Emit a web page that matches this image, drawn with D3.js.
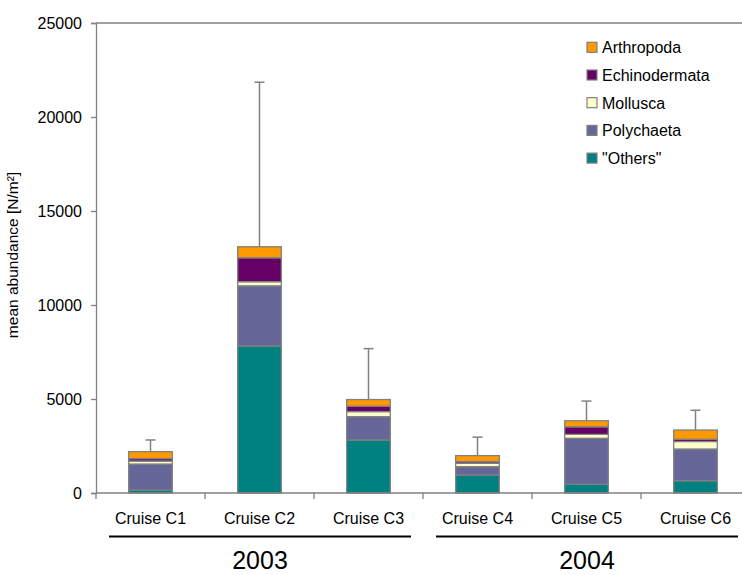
<!DOCTYPE html>
<html><head><meta charset="utf-8">
<script src="https://cdn.jsdelivr.net/npm/d3@7"></script>
<style>
body{margin:0;background:#fff;}
text{font-family:"Liberation Sans",Arial,sans-serif;}
</style></head>
<body><svg id="c" width="742" height="575"></svg>
<script>
const cruises = ["Cruise C1","Cruise C2","Cruise C3","Cruise C4","Cruise C5","Cruise C6"];
const others        = [160, 7820, 2820, 960,  460,  650];
const polychaeta    = [1380,3200, 1240, 440,  2450, 1690];
const mollusca      = [160, 220,  270,  180,  210,  400];
const echinodermata = [130, 1270, 290,  90,   400,  120];
const arthropoda    = [370, 590,  350,  320,  320,  490];
const errorTop      = [2820,21850,7680, 2970, 4890, 4400];
const yTicks = [0,5000,10000,15000,20000,25000];
const years = [{label:"2003", from:"Cruise C1", to:"Cruise C3"},{label:"2004", from:"Cruise C4", to:"Cruise C6"}];
const keys = ["Others","Polychaeta","Mollusca","Echinodermata","Arthropoda"];
const legendLabels = ["Arthropoda","Echinodermata","Mollusca","Polychaeta","\"Others\""];
const legendKeys = ["Arthropoda","Echinodermata","Mollusca","Polychaeta","Others"];
const colors = {Arthropoda:"#FF9900",Echinodermata:"#660066",Mollusca:"#FFFFCC",Polychaeta:"#666699",Others:"#008080"};

const rows = cruises.map((c,i)=>({cruise:c,Others:others[i],Polychaeta:polychaeta[i],Mollusca:mollusca[i],Echinodermata:echinodermata[i],Arthropoda:arthropoda[i],err:errorTop[i]}));

const svg = d3.select("#c");
const L=96, R=750, T=23, B=493;
const x = d3.scaleBand().domain(cruises).range([L,R]).paddingInner(0.6).paddingOuter(0.3);
const y = d3.scaleLinear().domain([0,25000]).range([B,T]);
const gray="#808080";

// plot border top
svg.append("line").attr("x1",L).attr("x2",R).attr("y1",T).attr("y2",T).attr("stroke",gray).attr("stroke-width",1.3);

// y axis
const ya = svg.append("g").attr("transform",`translate(${L},0)`).call(d3.axisLeft(y).tickValues(yTicks).tickSize(5).tickPadding(9).tickFormat(d3.format("d")));
ya.select(".domain").attr("stroke",gray).attr("stroke-width",1.3);
ya.selectAll(".tick line").attr("stroke",gray).attr("stroke-width",1.3);
ya.selectAll("text").attr("font-size","16px").attr("fill","#000").attr("font-family","Liberation Sans, Arial, sans-serif");

// stacked bars
const stack = d3.stack().keys(keys)(rows);
svg.append("g").selectAll("g").data(stack).join("g").attr("fill",d=>colors[d.key])
  .selectAll("rect").data(d=>d).join("rect")
  .attr("x",d=>x(d.data.cruise)).attr("width",x.bandwidth())
  .attr("y",d=>y(d[1])).attr("height",d=>y(d[0])-y(d[1]))
  .attr("stroke",gray).attr("stroke-width",1.3);

// error bars
const eb = svg.append("g").attr("stroke",gray).attr("stroke-width",1.5);
rows.forEach((r,i)=>{
  const tot = keys.reduce((s,k)=>s+r[k],0);
  const cx = x(r.cruise)+x.bandwidth()/2;
  eb.append("line").attr("x1",cx).attr("x2",cx).attr("y1",y(tot)).attr("y2",y(r.err));
  eb.append("line").attr("x1",cx-5).attr("x2",cx+5).attr("y1",y(r.err)).attr("y2",y(r.err));
});

// x axis
const xa = svg.append("g").attr("transform",`translate(0,${B})`);
xa.append("line").attr("x1",L).attr("x2",R).attr("stroke",gray).attr("stroke-width",1.3);
const step = x.step();
d3.range(cruises.length+1).forEach(k=>{
  const xx = x(cruises[0]) - x.paddingOuter()*step + k*step;
  xa.append("line").attr("x1",xx).attr("x2",xx).attr("y1",0).attr("y2",6).attr("stroke",gray).attr("stroke-width",1.3);
});
svg.append("g").selectAll("text").data(cruises).join("text")
  .attr("x",d=>x(d)+x.bandwidth()/2).attr("y",524).attr("text-anchor","middle")
  .attr("font-size","16px").attr("fill","#000").text(d=>d);

// year groups
years.forEach(g=>{
  const x0 = x(g.from) - x.paddingInner()*step/2 + 13;
  const x1 = x(g.to) + x.bandwidth() + x.paddingInner()*step/2 - 12;
  svg.append("line").attr("x1",x0).attr("x2",x1).attr("y1",536.5).attr("y2",536.5).attr("stroke","#000").attr("stroke-width",2);
  svg.append("text").attr("x",(x0+x1)/2).attr("y",569).attr("text-anchor","middle").attr("font-size","25px").attr("fill","#000").text(g.label);
});

// y title
svg.append("text").attr("transform","translate(18,255) rotate(-90)").attr("text-anchor","middle")
  .attr("font-size","15.5px").attr("fill","#000").text("mean abundance [N/m²]");

// legend
const lg = svg.append("g");
legendKeys.forEach((k,i)=>{
  const cy = 47.3 + i*27.7;
  lg.append("rect").attr("x",587).attr("y",cy-5).attr("width",10).attr("height",10).attr("fill",colors[k]).attr("stroke",gray).attr("stroke-width",1.2);
  lg.append("text").attr("x",602).attr("y",cy+6).attr("font-size","16px").attr("fill","#000").text(legendLabels[i]);
});
</script></body></html>
